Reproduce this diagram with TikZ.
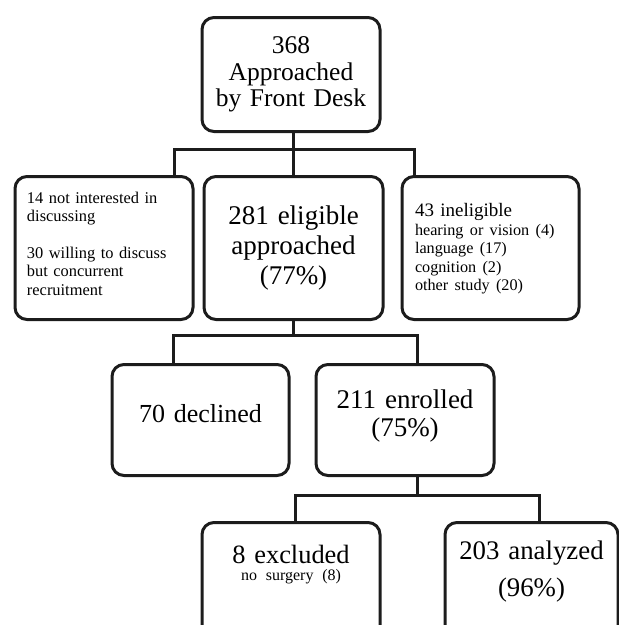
\documentclass[tikz,border=0pt]{standalone}
\usepackage{fontspec}
\setmainfont{Liberation Serif}
\definecolor{flowlinecolor}{rgb}{0.110000, 0.110000, 0.110000}
\definecolor{flowfillcolor}{rgb}{1.000000, 1.000000, 1.000000}
\newcommand{\fs}[2]{\fontsize{#1}{#2}\selectfont}
\tikzset{
  flowbox/.style={draw=flowlinecolor, fill=flowfillcolor, line width=3pt,
    rounded corners=12pt, inner sep=0pt, anchor=north},
  link/.style={draw=flowlinecolor, line width=3pt, line join=miter}
}
\begin{document}
\begin{tikzpicture}[x=1pt, y=-1pt]
\useasboundingbox (0,0) rectangle (619,625);
\clip (0,0) rectangle (619,625);
% first row
\node[flowbox, minimum width=178pt, text width=170pt, align=center,
  text height=36pt, text depth=78pt, font=\fs{25.5}{26.7}]
  (front) at (291,16) {368\\ Approached\\ by Front Desk};
% second row
\node[flowbox, minimum width=178pt, text width=154pt, align=left,
  text height=27pt, text depth=116pt, font=\fs{16.4}{18.3}]
  (notint) at (104,175) {14 not interested in\\ discussing\\[18.3pt] 30 willing to discuss\\ but concurrent\\ recruitment};
\node[flowbox, minimum width=179pt, text width=172pt, align=center,
  text height=48pt, text depth=95pt, font=\fs{27}{30}]
  (elig) at (293.5,175) {281 eligible\\ approached\\ (77\%)};
\node[flowbox, minimum width=177pt, text width=151pt, align=left,
  text height=40pt, text depth=103pt, font=\fs{19}{20}]
  (inelig) at (490.5,175) {43 ineligible\par
  {\fs{16.2}{18.5}hearing or vision (4)\\ language (17)\\ cognition (2)\\ other study (20)\par}};
% third row
\node[flowbox, minimum width=177pt, text width=170pt, align=center,
  text height=58pt, text depth=53pt, font=\fs{26}{28}]
  (declined) at (200.5,363) {70 declined};
\node[flowbox, minimum width=178pt, text width=170pt, align=center,
  text height=44pt, text depth=67pt, font=\fs{27}{28}]
  (enrolled) at (405,363) {211 enrolled\\ (75\%)};
% fourth row
\node[flowbox, minimum width=178pt, text width=170pt, align=center,
  text height=41pt, text depth=78pt, font=\fs{26.4}{28}]
  (excluded) at (291,521) {8 excluded\par {\fs{16}{17}no surgery (8)\par}};
\node[flowbox, minimum width=173pt, text width=166pt, align=center,
  text height=37pt, text depth=82pt, font=\fs{26.8}{37}]
  (analyzed) at (531.5,521) {203 analyzed\\ (96\%)};
% connectors
\path (front.south) ++(0,16) coordinate (j1);
\draw[link] (front.south -| elig.north) -- (elig.north);
\draw[link] ([xshift=-20pt]notint.north east) |- (j1) -| ([xshift=14pt]inelig.north west);
\path (elig.south) ++(0,14) coordinate (j2);
\draw[link] (elig.south) -- (j2);
\draw[link] ([xshift=-27pt]declined.north) |- (j2) -| ([xshift=12pt]enrolled.north);
\draw[link] ([xshift=12pt]enrolled.south) -- ++(0,18) coordinate (j3);
\draw[link] ([xshift=4pt]excluded.north) |- (j3) -| ([xshift=8pt]analyzed.north);
\end{tikzpicture}
\end{document}
